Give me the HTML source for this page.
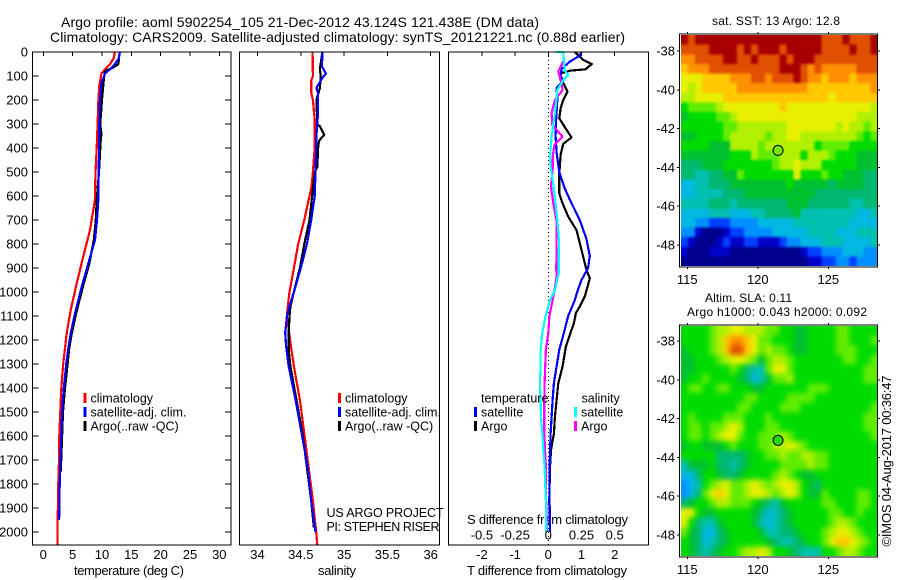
<!DOCTYPE html>
<html lang="en">
<head>
<meta charset="utf-8">
<title>Argo profile 5902254_105</title>
<style>
html,body{margin:0;padding:0;background:#fff;}
svg{display:block;font-family:"Liberation Sans",sans-serif;fill:#000;}
text{fill:#000;font-size:13px;}
.title{font-size:14px;}
.small{font-size:12px;}
.stamp{font-size:13px;}
.leg{font-size:12.5px;}
</style>
</head>
<body>
<svg id="chart" xmlns="http://www.w3.org/2000/svg" width="900" height="580" viewBox="0 0 900 580">
  <defs>
    <clipPath id="sst-clip"><rect x="681" y="35" width="196.5" height="231"/></clipPath>
    <clipPath id="sla-clip"><rect x="681" y="326" width="196.5" height="230"/></clipPath>
    <filter id="sst-blur" filterUnits="userSpaceOnUse" x="640" y="0" width="260" height="300" color-interpolation-filters="sRGB"><feGaussianBlur stdDeviation="1.3"/></filter>
    <filter id="sla-blur" filterUnits="userSpaceOnUse" x="640" y="280" width="260" height="300" color-interpolation-filters="sRGB"><feGaussianBlur stdDeviation="2.6"/></filter>
  </defs>
  <text class="title" x="61" y="27" textLength="478" lengthAdjust="spacing">Argo profile: aoml 5902254_105 21-Dec-2012 43.124S 121.438E (DM data)</text>
  <text class="title" x="50" y="42" textLength="575" lengthAdjust="spacing">Climatology: CARS2009. Satellite-adjusted climatology: synTS_20121221.nc (0.88d earlier)</text>

  <text x="74" y="575" textLength="110" lengthAdjust="spacing">temperature (deg C)</text>
  <text x="318" y="575" textLength="38" lengthAdjust="spacing">salinity</text>
  <text x="467" y="575" textLength="160" lengthAdjust="spacing">T difference from climatology</text>
  <text x="467" y="524" textLength="161" lengthAdjust="spacing">S difference from climatology</text>

  <text class="leg" x="326.5" y="517" textLength="117" lengthAdjust="spacing">US ARGO PROJECT</text>
  <text class="leg" x="326.5" y="531" textLength="113" lengthAdjust="spacing">PI: STEPHEN RISER</text>

  <text class="small" x="712" y="25" textLength="128" lengthAdjust="spacing">sat. SST: 13 Argo: 12.8</text>
  <text class="small" x="705" y="302" textLength="87" lengthAdjust="spacing">Altim. SLA: 0.11</text>
  <text class="small" x="687" y="316" textLength="180" lengthAdjust="spacing">Argo h1000: 0.043 h2000: 0.092</text>
  <text class="stamp" transform="translate(891,546.5) rotate(-90)" textLength="171" lengthAdjust="spacing">©IMOS 04-Aug-2017 00:36:47</text>
</svg>
<script>
// ---- temperature profiles (depth in m, value in deg C)
const tempClimDepth = [0,25,50,70,90,140,200,300,400,500,617,742,853,964,1075,1172,1235,1300,1400,1500,1600,1700,1800,1900,2000,2056];
const tempClimValue = [12.2,12.0,11.4,10.6,9.9,9.55,9.4,9.26,9.1,8.9,8.8,7.96,6.8,5.7,4.67,3.99,3.7,3.4,3.07,2.9,2.73,2.67,2.56,2.48,2.4,2.45];
const tempSatDepth = [0,30,60,90,130,200,300,400,500,617,700,783,881,978,1089,1172,1235,1300,1400,1500,1600,1700,1800,1900,1950];
const tempSatValue = [13.07,12.8,11.9,10.5,9.9,9.65,9.55,9.5,9.45,9.38,9.15,8.81,7.67,6.54,5.4,4.67,4.26,3.9,3.5,3.2,3.07,2.9,2.8,2.75,2.7];
const tempArgoDepth = [0,50,65,80,120,200,300,340,380,500,617,700,783,881,978,1089,1172,1235,1300,1400,1500,1600,1700,1750];
const tempArgoValue = [13.0,12.8,11.9,10.5,10.3,10,9.7,9.9,9.75,9.5,9.1,8.95,8.6,7.85,6.75,5.6,4.85,4.42,4.15,3.7,3.35,3.2,3.05,2.95];

// ---- salinity profiles
const salClimDepth = [0,100,120,170,200,280,400,500,570,600,700,800,900,1000,1060,1100,1210,1310,1450,1590,1730,1870,2010,2056];
const salClimValue = [34.636,34.64,34.62,34.62,34.64,34.66,34.66,34.64,34.62,34.6,34.54,34.47,34.42,34.37,34.35,34.34,34.38,34.42,34.49,34.54,34.59,34.64,34.68,34.69];
const salSatDepth = [0,60,90,110,150,170,250,350,500,600,700,800,900,1000,1060,1100,1170,1225,1310,1450,1590,1730,1870,2000];
const salSatValue = [34.75,34.745,34.79,34.745,34.68,34.7,34.7,34.68,34.67,34.66,34.62,34.57,34.5,34.42,34.37,34.34,34.32,34.33,34.36,34.44,34.51,34.58,34.62,34.67];
const salArgoDepth = [0,70,100,150,200,300,310,345,370,400,480,500,600,700,800,900,1000,1060,1100,1170,1240,1310,1450,1590,1730,1870,1980];
const salArgoValue = [34.75,34.72,34.73,34.72,34.68,34.69,34.72,34.77,34.71,34.7,34.69,34.66,34.63,34.6,34.54,34.49,34.42,34.38,34.37,34.36,34.36,34.38,34.45,34.52,34.57,34.62,34.65];

// ---- difference profiles
const diffTSatDepth = [0,15,40,70,100,120,150,200,300,350,420,500,570,630,700,780,850,900,950,1000,1033,1100,1170,1240,1310,1380,1450,1520,1590,1730,1870,2000];
const diffTSatValue = [1.0,.95,.65,.4,.37,.45,.25,.27,.23,.22,.25,.33,.5,.7,.95,1.15,1.25,1.2,1.0,.87,.8,.6,.47,.33,.25,.17,.13,.1,.07,.04,.04,.05];
const diffTArgoDepth = [0,33,50,72,78,89,110,128,165,200,235,276,314,356,383,429,506,589,631,686,742,825,908,943,1019,1060,1088,1130,1170,1227,1310,1380,1450,1520,1590,1658,1730,1870,2000];
const diffTArgoValue = [.8,1.05,1.31,1.12,.65,.37,.35,.45,.58,.45,.37,.33,.5,.7,.45,.37,.33,.33,.43,.6,.85,1.0,1.15,1.25,1.1,.95,.83,.77,.67,.53,.43,.3,.25,.2,.17,.08,.05,.03,.05];
const diffSSatDepth = [0,1,47,78,96,117,158,186,256,353,436,485,533,603,700,783,922,992,1033,1100,1170,1240,1310,1380,1450,1520,1590,1658,1730,1800,1870,2000];
const diffSSatValue = [.058,.113,.118,.125,.15,.113,.068,.063,.05,.025,.013,.018,.033,.05,.068,.08,.078,.05,.013,-.02,-.045,-.058,-.058,-.063,-.058,-.055,-.045,-.038,-.028,-.023,-.018,-.015];
const diffSArgoDepth = [33,82,131,158,200,256,304,353,388,436,485,561,631,707,908,936,1019,1033,1100,1170,1240,1310,1380,1450,1590,1658,1730,1840,1930,2000];
const diffSArgoValue = [.118,.075,.1,.108,.05,.025,.03,.108,.045,.033,.033,.02,.038,.063,.06,.063,.038,.033,.008,0,-.018,-.023,-.028,-.03,-.03,-.025,-.018,-.018,-.013,-.01];

// ---- tick labels
const depthTicks = [0,100,200,300,400,500,600,700,800,900,1000,1100,1200,1300,1400,1500,1600,1700,1800,1900,2000];
const tempTicks = [0,5,10,15,20,25,30];
const salTicks = [34,34.5,35,35.5,36];
const diffTTicks = [-2,-1,0,1,2];
const diffSTicks = [-0.5,-0.25,0,0.25,0.5];
const lonTicks = [115,120,125];
const latTicks = [-38,-40,-42,-44,-46,-48];

// ---- map grids: each character is a colour level 0-f, spaces only for readability
const sstRows = [
"feff ffff ffff ffff ffff eeef eeef",
"eeee ffff efef ffef ffff eeee feef",
"ddee eeff eefe eefe fffe eeee eeee",
"cddd eeee eeee eeff fede dddd deee",
"bbbc cccd ddee deee fedd cddd cddd",
"babc cccc dddd dddd ddcc cccc cccd",
"aabb bbcc cccc cccc cccc cbcc cccc",
"8999 9abb bbbb bbcb bbbb bbbb bbba",
"7888 899a bbbb bbbb bbbb bbbb baaa",
"8888 8899 aaaa aaab bbbb bbab aa9a",
"7788 889a aaaa 9aab baaa aaaa a989",
"8888 777a aaa9 aaaa aaa8 9999 8888",
"7777 7778 88a9 99aa a8aa a988 8777",
"6667 7788 8888 89aa baaa 8888 8777",
"6655 6677 9888 8888 b888 9887 7766",
"4455 6667 7777 7778 7777 7677 7766",
"4455 5566 6777 7777 7776 6666 6666",
"5555 6665 6666 6667 7766 6666 5566",
"4444 5554 4455 6666 7555 5555 5445",
"4433 2223 3334 4444 5555 5555 4444",
"3310 0012 2333 3444 4455 5544 4555",
"2100 0121 1221 1123 3444 5554 4445",
"1000 1110 0000 0000 0122 3334 4433",
"0000 0000 0000 0000 0011 2233 2333"
];
const slaRows = [
"8888 9aab baaa 9988 7788 8899 8888",
"8888 9acd dcb9 9888 7788 8899 8889",
"7888 9ace ecb9 a998 7788 8899 9888",
"7788 89ab ba97 9aa9 8888 8889 9889",
"7788 8889 8655 9bb9 8888 8888 8899",
"7889 8888 7645 799a 8888 8888 8899",
"8998 8998 8877 8888 8899 9888 8888",
"8888 8888 8998 8889 9998 8888 8888",
"8888 8888 9988 8899 9888 8888 8889",
"8988 8899 9888 9888 8888 8888 8899",
"8998 99ab a888 9988 8888 8888 8899",
"8998 9abb 9889 99a9 8888 8888 8889",
"7887 7789 8889 9aab a988 8888 8888",
"8888 8666 6788 99a9 9aa9 9888 8888",
"5777 8665 6788 8899 99a9 9888 8888",
"4468 8766 7888 89a9 8778 8888 8888",
"3458 9ab9 9aba 9abb a876 8888 8888",
"3469 bcb9 9abb a9ab a877 9888 8998",
"6788 9aa9 9987 6578 8888 9988 8998",
"bb87 7888 8876 4567 8888 8998 8988",
"b865 5788 8875 4567 8888 89aa 9888",
"9764 4678 8887 5566 7888 9abb a988",
"8764 5678 8888 7655 6788 9bcc ba98",
"8765 6788 9aab a887 6555 889a a988"
];
const mapPalette = ["#00008c","#0000c8","#0040ff","#0090ff","#00b8e0","#00c0b0","#00b870","#00c030","#00dc00","#60ec00","#b0f000","#e8f000","#ffc800","#ff9000","#e05000","#a80000"];

// ---- float position
const floatLon = 121.438;
const floatLat = -43.124;

const NS = "http://www.w3.org/2000/svg";
const svg = document.getElementById("chart");

function make(tag, attrs, parent) {
  const el = document.createElementNS(NS, tag);
  for (const k in attrs) el.setAttribute(k, attrs[k]);
  (parent || svg).appendChild(el);
  return el;
}

// axis functions
const depthY = d => 52 + 0.24 * d;
const tempX = t => 43.3 + 5.867 * t;
const salX = s => 257.5 + 86.6 * (s - 34);
const diffTX = t => 548.3 + 33.2 * t;
const diffSX = s => 548.3 + 132.8 * s;
const lonX = lon => 687.3 + 14.1 * (lon - 115);
const sstLatY = lat => 51 + 19.4 * (-38 - lat);
const slaLatY = lat => 341 + 19.4 * (-38 - lat);

function drawFrame(x, y, w, h, name) {
  const frame = make("rect", {x: x, y: y, width: w, height: h, fill: "none", stroke: "#000", "stroke-width": 1.2, "shape-rendering": "crispEdges"});
  
  
  return frame;
}

function tickLine(x1, y1, x2, y2, name) {
  const t = make("line", {x1: x1, y1: y1, x2: x2, y2: y2, stroke: "#000", "stroke-width": 1, "shape-rendering": "crispEdges"});
  
  
}

function tickText(x, y, label, anchor, name) {
  const t = make("text", {x: x, y: y, "text-anchor": anchor});
  t.textContent = label;
  
  
}

function drawCurve(depths, values, xFn, color, name) {
  const pts = depths.map((d, i) => xFn(values[i]).toFixed(1) + "," + depthY(d).toFixed(1)).join(" ");
  const line = make("polyline", {points: pts, fill: "none", stroke: color, "stroke-width": 2.2, "stroke-linejoin": "round", "shape-rendering": "crispEdges"});
  
  
}

function legendEntry(barX, y, color, label, name) {
  const bar = make("rect", {x: barX, y: y - 5, width: 3, height: 10, fill: color, "shape-rendering": "crispEdges"});
  
  
  const t = make("text", {x: barX + 7, y: y + 4.5, "class": "leg"});
  t.textContent = label;
  
  
}

// --- profile panels
const panelTop = 52, panelBottom = 545;

// temperature panel
drawCurve(tempClimDepth, tempClimValue, tempX, "#ff0000", "temperature-climatology-line");
drawCurve(tempArgoDepth, tempArgoValue, tempX, "#000000", "temperature-argo-line");
drawCurve(tempSatDepth, tempSatValue, tempX, "#0000ff", "temperature-satellite-line");
drawFrame(32.5, panelTop, 198.5, panelBottom - panelTop, "temperature-panel-frame");
depthTicks.forEach(d => {
  tickLine(32.5, depthY(d), 38.5, depthY(d), "depth-tick-left");
  tickLine(225, depthY(d), 231, depthY(d), "depth-tick-right");
  tickText(28, depthY(d) + 4.5, d, "end", "depth-tick-label");
});
tempTicks.forEach(t => {
  tickLine(tempX(t), panelTop, tempX(t), panelTop + 4, "temperature-tick");
  tickText(tempX(t), 559, t, "middle", "temperature-tick-label");
});

// salinity panel
drawCurve(salClimDepth, salClimValue, salX, "#ff0000", "salinity-climatology-line");
drawCurve(salArgoDepth, salArgoValue, salX, "#000000", "salinity-argo-line");
drawCurve(salSatDepth, salSatValue, salX, "#0000ff", "salinity-satellite-line");
drawFrame(239.5, panelTop, 200, panelBottom - panelTop, "salinity-panel-frame");
salTicks.forEach(s => {
  tickLine(salX(s), panelTop, salX(s), panelTop + 4, "salinity-tick");
  tickText(salX(s), 559, s, "middle", "salinity-tick-label");
});

// difference panel
const zero = make("line", {x1: diffTX(0), y1: panelTop, x2: diffTX(0), y2: panelBottom, stroke: "#000", "stroke-width": 1, "stroke-dasharray": "1 3", "shape-rendering": "crispEdges"});


drawCurve(diffTArgoDepth, diffTArgoValue, diffTX, "#000000", "t-difference-argo-line");
drawCurve(diffTSatDepth, diffTSatValue, diffTX, "#0000ff", "t-difference-satellite-line");
drawCurve(diffSArgoDepth, diffSArgoValue, diffSX, "#ff00ff", "s-difference-argo-line");
drawCurve(diffSSatDepth, diffSSatValue, diffSX, "#00ffff", "s-difference-satellite-line");
drawFrame(448.5, panelTop, 200, panelBottom - panelTop, "difference-panel-frame");
diffTTicks.forEach(t => {
  tickLine(diffTX(t), panelTop, diffTX(t), panelTop + 4, "t-difference-tick");
  tickText(diffTX(t), 559, t, "middle", "t-difference-tick-label");
});
diffSTicks.forEach(s => {
  tickText(diffSX(s), 539.5, s, "middle", "s-difference-tick-label");
});

// --- legends
legendEntry(83.5, 398, "#ff0000", "climatology", "temperature-legend-climatology");
legendEntry(83.5, 412, "#0000ff", "satellite-adj. clim.", "temperature-legend-satellite");
legendEntry(83.5, 426, "#000000", "Argo(..raw -QC)", "temperature-legend-argo");
legendEntry(338, 398, "#ff0000", "climatology", "salinity-legend-climatology");
legendEntry(338, 412, "#0000ff", "satellite-adj. clim.", "salinity-legend-satellite");
legendEntry(338, 426, "#000000", "Argo(..raw -QC)", "salinity-legend-argo");
legendEntry(474, 412, "#0000ff", "satellite", "difference-legend-t-satellite");
legendEntry(474, 426, "#000000", "Argo", "difference-legend-t-argo");
legendEntry(574, 412, "#00ffff", "satellite", "difference-legend-s-satellite");
legendEntry(574, 426, "#ff00ff", "Argo", "difference-legend-s-argo");
const legT = make("text", {x: 481, y: 402.5, "class": "leg"});
legT.textContent = "temperature";


const legS = make("text", {x: 581.5, y: 402.5, "class": "leg"});
legS.textContent = "salinity";



// --- maps
function drawMap(rows, left, top, width, height, clipId, filterId, cellName) {
  const outer = make("g", {"clip-path": "url(#" + clipId + ")"});
  
  
  const g = make("g", {filter: "url(#" + filterId + ")"}, outer);
  const grid = rows.map(r => r.replace(/ /g, ""));
  const nRows = grid.length;
  const nCols = grid[0].length;
  const cw = width / nCols, ch = height / nRows;
  // edge cells extend outward so the blur does not fade at the border
  const pad = 16;
  grid.forEach((row, r) => {
    row.split("").forEach((c, k) => {
      const x0 = left + k * cw - (k === 0 ? pad : 0);
      const x1 = left + (k + 1) * cw + (k === nCols - 1 ? pad : 0);
      const y0 = top + r * ch - (r === 0 ? pad : 0);
      const y1 = top + (r + 1) * ch + (r === nRows - 1 ? pad : 0);
      const cell = make("rect", {x: x0.toFixed(2), y: y0.toFixed(2), width: (x1 - x0 + 0.4).toFixed(2), height: (y1 - y0 + 0.4).toFixed(2), fill: mapPalette[parseInt(c, 16)], "shape-rendering": "crispEdges"}, g);
      
      
    });
  });
}

function drawMapAxes(frameTop, frameBottom, latY, prefix, markerFill) {
  drawFrame(679.5, frameTop, 198, frameBottom - frameTop, prefix + "-map-frame");
  lonTicks.forEach(lon => {
    tickLine(lonX(lon), frameTop - 2, lonX(lon), frameTop, prefix + "-lon-tick-top");
    tickLine(lonX(lon), frameBottom, lonX(lon), frameBottom + 2, prefix + "-lon-tick-bottom");
    tickText(lonX(lon), frameBottom + 17, lon, "middle", prefix + "-lon-tick-label");
  });
  latTicks.forEach(lat => {
    tickLine(677, latY(lat), 679.5, latY(lat), prefix + "-lat-tick-left");
    tickLine(877.5, latY(lat), 880, latY(lat), prefix + "-lat-tick-right");
    tickText(675, latY(lat) + 4.5, lat, "end", prefix + "-lat-tick-label");
  });
  const marker = make("circle", {cx: lonX(floatLon), cy: latY(floatLat), r: 5, fill: markerFill, stroke: "#000", "stroke-width": 1});
  
  
}

drawMap(sstRows, 681, 35, 196.5, 231, "sst-clip", "sst-blur", "sst");
drawMapAxes(34, 267, sstLatY, "sst", "#78e400");
drawMap(slaRows, 681, 326, 196.5, 230, "sla-clip", "sla-blur", "sla");
drawMapAxes(325, 557, slaLatY, "sla", "#28d800");
</script>
</body>
</html>
